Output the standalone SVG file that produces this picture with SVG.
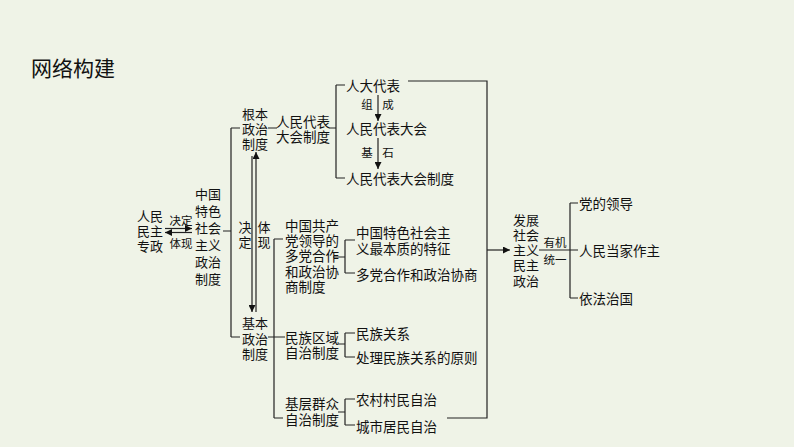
<svg xmlns="http://www.w3.org/2000/svg" width="794" height="447" viewBox="0 0 794 447">
<style>
text{font-family:"Noto Sans CJK SC","Noto Sans",sans-serif;fill:#111;dominant-baseline:central}
.t{font-size:13.5px}
.c{font-size:13px;text-anchor:middle}
.s{font-size:11.5px;text-anchor:middle}
.ln{stroke:#222;stroke-width:1.2;fill:none}
</style>
<defs>
<marker id="ah" viewBox="0 0 8 8" refX="8" refY="4" markerWidth="7" markerHeight="7" orient="auto" markerUnits="userSpaceOnUse"><path d="M0,0 L8,4 L0,8 z" fill="#111"/></marker>
</defs>
<rect width="794" height="447" fill="#eff3e7"/>
<text x="31" y="67" style="font-size:21px">网络构建</text>

<g id="connectors">
<line class="ln" x1="165" y1="228.5" x2="192" y2="228.5" marker-end="url(#ah)"/>
<line class="ln" x1="192" y1="232.5" x2="165" y2="232.5" marker-end="url(#ah)"/>
<path class="ln" d="M223,231 H231 M231,128 V337 M231,128 H240 M231,337 H240"/>
<path class="ln" d="M268,128 H277 M329,128 H336 M336,85 V178 M336,85 H345 M336,178 H345"/>
<line class="ln" x1="378" y1="95" x2="378" y2="121" marker-end="url(#ah)"/>
<line class="ln" x1="378" y1="138" x2="378" y2="169" marker-end="url(#ah)"/>
<path class="ln" d="M408,81 H487 V418 H447"/>
<line class="ln" x1="487" y1="250" x2="510" y2="250" marker-end="url(#ah)"/>
<line class="ln" x1="252" y1="156" x2="252" y2="312" marker-end="url(#ah)"/>
<line class="ln" x1="256" y1="312" x2="256" y2="152" marker-end="url(#ah)"/>
<path class="ln" d="M268,337 H285 M274,239 V418 M274,239 H283 M274,418 H283"/>
<path class="ln" d="M333,257 H345 M345,240 V273 M345,240 H355 M345,273 H355"/>
<path class="ln" d="M338,344 H345 M345,333 V357 M345,333 H355 M345,357 H355"/>
<path class="ln" d="M338,412 H345 M345,399 V425 M345,399 H355 M345,425 H355"/>
<path class="ln" d="M539,250 H578 M570,203 V298 M570,203 H578 M570,298 H578"/>
</g>

<g id="n-renmin"><text class="c" x="150" y="215">人民<tspan x="150" dy="15">民主</tspan><tspan x="150" dy="15">专政</tspan></text></g>
<g id="l-jueding"><text class="s" x="181" y="220">决定</text><text class="s" x="181" y="243">体现</text></g>
<g id="n-zhongguo"><text class="c" x="208" y="193">中国<tspan x="208" dy="17">特色</tspan><tspan x="208" dy="17">社会</tspan><tspan x="208" dy="17">主义</tspan><tspan x="208" dy="17">政治</tspan><tspan x="208" dy="17">制度</tspan></text></g>
<g id="n-genben"><text class="c" x="255" y="113">根本<tspan x="255" dy="15">政治</tspan><tspan x="255" dy="15">制度</tspan></text></g>
<g id="l-vert"><text class="c" x="245" y="226">决<tspan x="245" dy="15">定</tspan></text><text class="c" x="264" y="226">体<tspan x="264" dy="15">现</tspan></text></g>
<g id="n-jiben"><text class="c" x="255" y="322">基本<tspan x="255" dy="15.5">政治</tspan><tspan x="255" dy="15.5">制度</tspan></text></g>
<g id="n-rdzd"><text class="t" x="276" y="120.5">人民代表<tspan x="276" dy="15.5">大会制度</tspan></text></g>
<g id="n-rddb"><text class="t" x="346" y="85">人大代表</text></g>
<g id="l-zucheng"><text class="s" x="367" y="104">组</text><text class="s" x="388" y="104">成</text></g>
<g id="n-rddh"><text class="t" x="346" y="128">人民代表大会</text></g>
<g id="l-jishi"><text class="s" x="367" y="152">基</text><text class="s" x="388" y="152">石</text></g>
<g id="n-rddhzd"><text class="t" x="346" y="178">人民代表大会制度</text></g>
<g id="n-duodang"><text class="t" x="285" y="225">中国共产<tspan x="285" dy="15.2">党领导的</tspan><tspan x="285" dy="15.2">多党合作</tspan><tspan x="285" dy="15.2">和政治协</tspan><tspan x="285" dy="15.2">商制度</tspan></text></g>
<g id="n-tezheng"><text class="t" x="356" y="232">中国特色社会主<tspan x="356" dy="16">义最本质的特征</tspan></text></g>
<g id="n-xieshang"><text class="t" x="356" y="274">多党合作和政治协商</text></g>
<g id="n-minzu"><text class="t" x="285" y="337">民族区域<tspan x="285" dy="15">自治制度</tspan></text></g>
<g id="n-mzgx"><text class="t" x="356" y="333">民族关系</text></g>
<g id="n-yuanze"><text class="t" x="356" y="357">处理民族关系的原则</text></g>
<g id="n-jiceng"><text class="t" x="285" y="403">基层群众<tspan x="285" dy="16">自治制度</tspan></text></g>
<g id="n-nongcun"><text class="t" x="356" y="399">农村村民自治</text></g>
<g id="n-chengshi"><text class="t" x="356" y="426">城市居民自治</text></g>
<g id="n-fazhan"><text class="c" x="526" y="219">发展<tspan x="526" dy="15">社会</tspan><tspan x="526" dy="15">主义</tspan><tspan x="526" dy="15">民主</tspan><tspan x="526" dy="15.5">政治</tspan></text></g>
<g id="l-youji"><text class="s" x="555" y="242">有机</text><text class="s" x="555" y="259">统一</text></g>
<g id="n-dang"><text class="t" x="579" y="203">党的领导</text></g>
<g id="n-renmindangjia"><text class="t" x="579" y="250">人民当家作主</text></g>
<g id="n-yifa"><text class="t" x="579" y="298">依法治国</text></g>
</svg>
